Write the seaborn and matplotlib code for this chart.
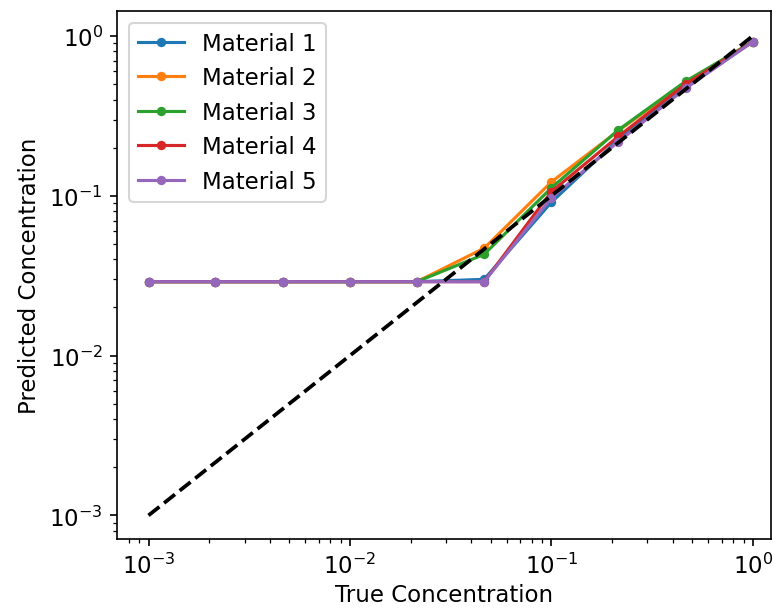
import numpy as np
import pandas as pd
import matplotlib
matplotlib.use("Agg")
import matplotlib.pyplot as plt
import seaborn as sns

true_conc = [0.001, 0.00215, 0.00464, 0.01, 0.0215, 0.0464, 0.1, 0.215, 0.464, 1.0]
materials = ["Material 1", "Material 2", "Material 3", "Material 4", "Material 5"]
m1 = [0.029, 0.029, 0.029, 0.029, 0.029, 0.030, 0.091, 0.225, 0.48, 0.92]
m2 = [0.029, 0.029, 0.029, 0.029, 0.029, 0.047, 0.122, 0.255, 0.51, 0.92]
m3 = [0.029, 0.029, 0.029, 0.029, 0.029, 0.043, 0.112, 0.258, 0.52, 0.92]
m4 = [0.029, 0.029, 0.029, 0.029, 0.029, 0.029, 0.106, 0.235, 0.50, 0.92]
m5 = [0.029, 0.029, 0.029, 0.029, 0.029, 0.029, 0.097, 0.218, 0.47, 0.92]
series = [m1, m2, m3, m4, m5]

rows = []
for name, vals in zip(materials, series):
    for x, y in zip(true_conc, vals):
        rows.append({"True": x, "Pred": y, "Material": name})
df = pd.DataFrame(rows)

fig = plt.figure(figsize=(773 / 150, 609 / 150), dpi=150)
ax = fig.add_axes([0.152, 0.114, 0.845, 0.866])
palette = ["#1f77b4", "#ff7f0e", "#2ca02c", "#d62728", "#9467bd"]
sns.lineplot(data=df, x="True", y="Pred", hue="Material", palette=palette,
             marker="o", markersize=4.5, markeredgewidth=0, linewidth=1.5, ax=ax)
ax.plot([true_conc[0], true_conc[-1]], [true_conc[0], true_conc[-1]], "k--", linewidth=1.8)
ax.set_xscale("log")
ax.set_yscale("log")
ax.set_xlim(10 ** -3.154, 10 ** 0.089)
ax.set_ylim(10 ** -3.145, 10 ** 0.155)
ax.set_xlabel("True Concentration", fontsize=11, labelpad=2)
ax.set_ylabel("Predicted Concentration", fontsize=11)
ax.tick_params(labelsize=11)
ax.legend(loc="upper left", fontsize=11, title=None)
fig.savefig("out.png", dpi=150)
